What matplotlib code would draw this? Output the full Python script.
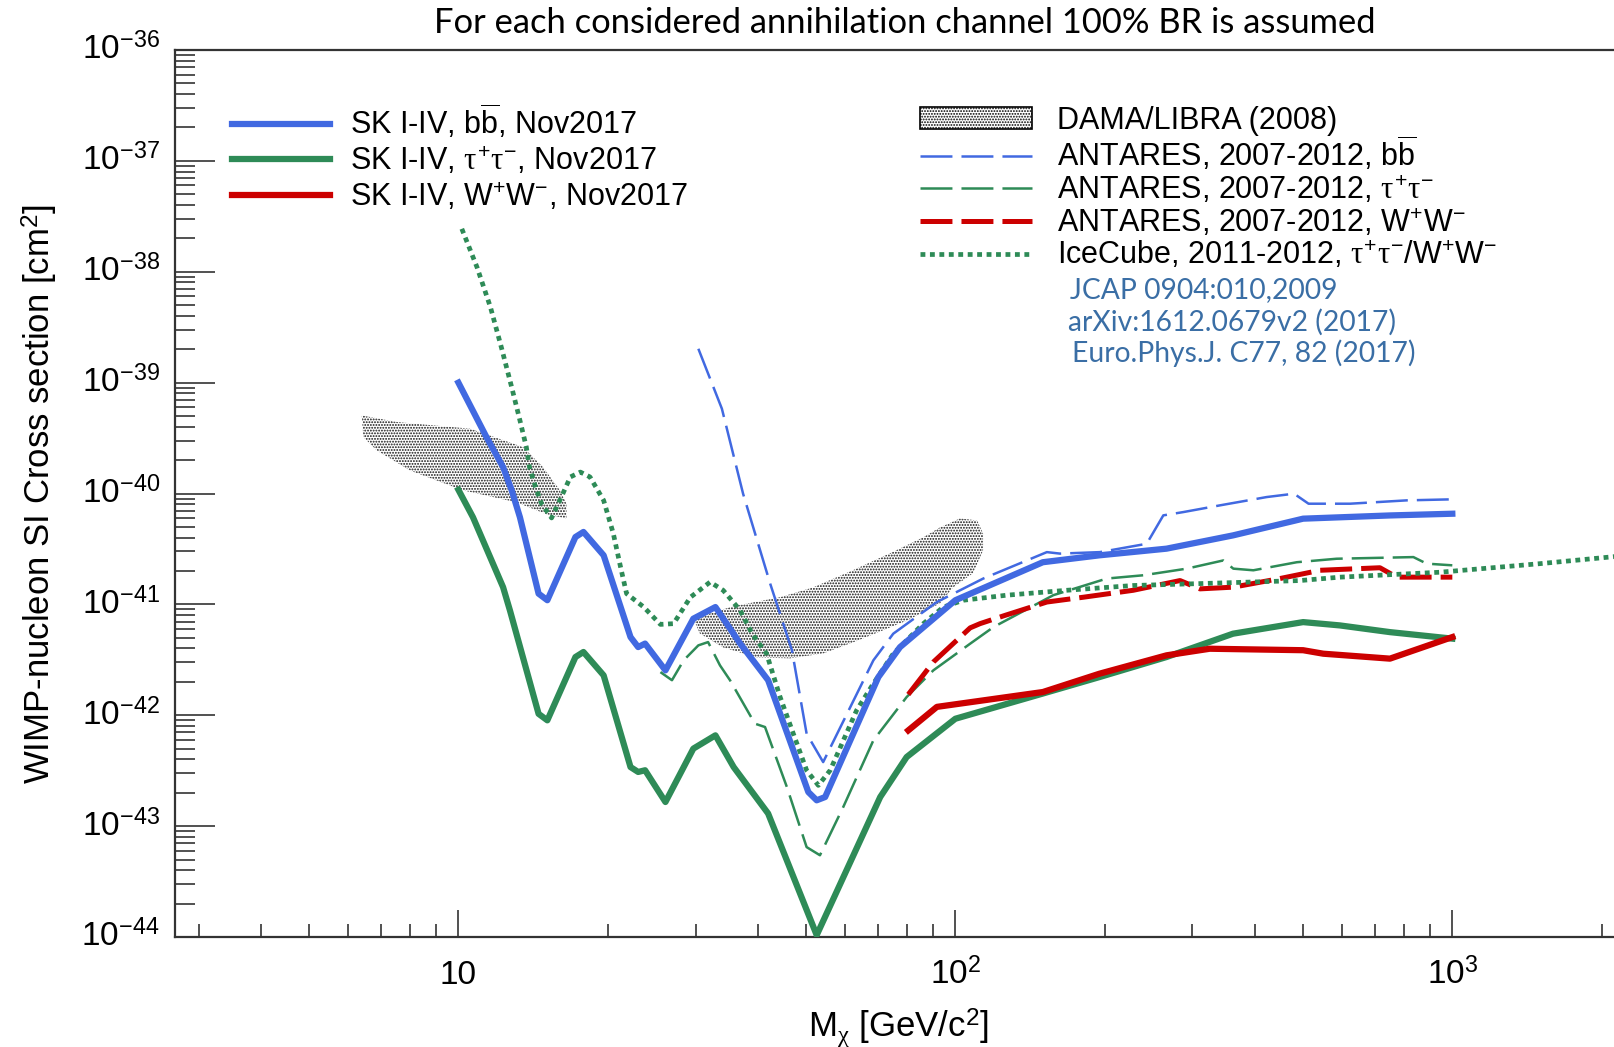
import numpy as np
import matplotlib
matplotlib.use("Agg")
import matplotlib.pyplot as plt
from matplotlib.patches import Patch
from matplotlib.ticker import LogLocator, FixedLocator, FuncFormatter, NullFormatter

# ---------------- data ----------------
sk_bb_mass = [10.0, 11.4, 12.3, 12.8, 13.3, 14.5, 15.1, 17.2, 17.85, 19.6, 22.2, 23.0, 23.75,
              26.1, 29.7, 32.9, 36.9, 42.0, 50.6, 52.6, 54.7, 70.0, 77.4, 100, 150, 195, 266,
              362, 501, 749, 1000]
sk_bb_xs = [1.0e-39, 3.2e-40, 1.73e-40, 1.07e-40, 6.1e-41, 1.25e-41, 1.09e-41, 4.05e-41, 4.5e-41,
            2.77e-41, 5.07e-42, 4.12e-42, 4.43e-42, 2.54e-42, 7.43e-42, 9.46e-42, 4.43e-42,
            2.07e-42, 2.03e-43, 1.71e-43, 1.83e-43, 2.21e-42, 4.12e-42, 1.09e-41, 2.40e-41,
            2.77e-41, 3.18e-41, 4.19e-41, 5.93e-41, 6.34e-41, 6.57e-41]

sk_tt_mass = [10.0, 10.7, 12.3, 12.7, 14.5, 15.1, 17.2, 17.85, 19.6, 22.2, 23.0, 23.75, 26.1,
              29.7, 32.9, 35.8, 42.0, 52.6, 70.6, 79.8, 100, 150, 195, 266, 362, 501, 594,
              749, 1000]
sk_tt_xs = [1.08e-40, 6.1e-41, 1.43e-41, 8.8e-42, 1.03e-42, 9.0e-43, 3.35e-42, 3.72e-42, 2.29e-42,
            3.41e-43, 3.08e-43, 3.19e-43, 1.65e-43, 5.0e-43, 6.59e-43, 3.41e-43, 1.30e-43,
            1.04e-44, 1.83e-43, 4.2e-43, 9.3e-43, 1.57e-42, 2.21e-42, 3.35e-42, 5.44e-42,
            6.92e-42, 6.46e-42, 5.62e-42, 4.91e-42]

sk_ww_mass = [80.4, 91.8, 150, 195, 266, 325, 501, 550, 749, 1000]
sk_ww_xs = [7.3e-43, 1.19e-42, 1.62e-42, 2.37e-42, 3.47e-42, 3.98e-42, 3.86e-42, 3.59e-42,
            3.24e-42, 5.07e-42]

ant_bb_mass = [30.4, 33.9, 37.4, 42.4, 46.9, 50.2, 54.2, 68.4, 75.0, 91.8, 113.8, 152.8, 162.4,
               195.4, 242.7, 262.1, 287.6, 340.9, 423.2, 480.3, 513.7, 622.6, 809, 1000]
ant_bb_xs = [2.02e-39, 5.82e-40, 9.95e-41, 1.54e-41, 3.85e-42, 6.82e-43, 3.78e-43, 3.13e-42,
             5.44e-42, 1.05e-41, 1.71e-41, 2.96e-41, 2.87e-41, 2.96e-41, 3.52e-41, 6.35e-41,
             6.80e-41, 7.82e-41, 9.29e-41, 9.96e-41, 8.09e-41, 8.09e-41, 8.67e-41, 8.86e-41]

ant_tt_mass = [25.5, 26.9, 28.4, 30.4, 31.8, 33.6, 35.2, 39.5, 41.4, 45.8, 50.2, 53.4, 59.5,
               68.4, 79.8, 90.3, 107.1, 119.3, 157.4, 201.7, 238.8, 292.2, 346, 362.5, 397.8,
               486.5, 585, 835, 888, 1000]
ant_tt_xs = [2.45e-42, 2.07e-42, 3.13e-42, 4.27e-42, 4.57e-42, 2.82e-42, 2.07e-42, 8.4e-43,
             7.83e-43, 2.26e-43, 6.47e-44, 5.46e-44, 1.49e-43, 5.94e-43, 1.46e-42, 2.54e-42,
             4.42e-42, 6.24e-42, 1.21e-41, 1.71e-41, 1.83e-41, 2.10e-41, 2.49e-41, 2.10e-41,
             2.03e-41, 2.40e-41, 2.58e-41, 2.67e-41, 2.33e-41, 2.25e-41]

ant_ww_mass = [80.4, 90.3, 107.1, 112.1, 125.9, 152.8, 180.9, 228, 283.2, 310.6, 362.5, 450,
               542, 715, 773, 1000]
ant_ww_xs = [1.54e-42, 3.02e-42, 6.14e-42, 6.70e-42, 7.96e-42, 1.05e-41, 1.16e-41, 1.34e-41,
             1.64e-41, 1.38e-41, 1.43e-41, 1.71e-41, 2.03e-41, 2.14e-41, 1.76e-41, 1.76e-41]

ice_mass = [10.16, 10.9, 11.6, 12.2, 12.8, 13.3, 13.7, 13.9, 14.3, 14.7, 15.4, 16.0, 16.8, 17.6,
            18.4, 19.6, 20.5, 21.2, 21.8, 23.6, 25.5, 27.1, 29.3, 32.1, 34.1, 36.9, 39.0, 41.7,
            44.4, 47.2, 50.2, 53.0, 56.0, 63.3, 68.4, 75.0, 86.2, 94.6, 103.8, 126.9, 167.5,
            228, 310.6, 493.8, 594, 945, 1502, 2125]
ice_xs = [2.44e-38, 1.10e-38, 4.80e-39, 2.09e-39, 9.1e-40, 4.56e-40, 2.62e-40, 1.73e-40,
          1.14e-40, 8.09e-41, 6.02e-41, 8.67e-41, 1.41e-40, 1.56e-40, 1.41e-40, 8.67e-41,
          4.35e-41, 2.17e-41, 1.25e-41, 9.46e-42, 6.6e-42, 6.7e-42, 1.16e-41, 1.59e-41,
          1.34e-41, 8.83e-42, 5.44e-42, 3.59e-42, 1.46e-42, 6.82e-43, 3.19e-43, 2.33e-43,
          3.19e-43, 1.11e-42, 1.93e-42, 3.59e-42, 6.70e-42, 9.46e-42, 1.09e-41, 1.21e-41,
          1.34e-41, 1.48e-41, 1.54e-41, 1.64e-41, 1.76e-41, 1.95e-41, 2.33e-41, 2.70e-41]

dama1_mass = [6.39, 7.52, 10.56, 13.5, 14.8, 16.0, 16.5, 16.5, 15.06, 13.1, 10.2, 8.0, 6.85, 6.44]
dama1_xs = [5.06e-40, 4.41e-40, 3.84e-40, 2.62e-40, 1.73e-40, 1.07e-40, 8.09e-41, 5.96e-41,
            6.49e-41, 8.32e-41, 1.07e-40, 1.61e-40, 2.45e-40, 3.23e-40]

dama2_mass = [29.7, 35.7, 44.4, 51.7, 62.2, 73.9, 86.1, 93.1, 102.2, 110.6, 113.7, 113.7, 108.5,
              98.9, 93.1, 80.1, 63.7, 54.2, 46.5, 39.9, 34.1, 30.6]
dama2_xs = [7.48e-42, 9.6e-42, 1.16e-41, 1.42e-41, 2.03e-41, 2.89e-41, 4.02e-41, 4.94e-41,
            5.96e-41, 5.71e-41, 4.36e-41, 3.07e-41, 1.91e-41, 1.42e-41, 1.02e-41, 7.18e-42,
            4.73e-42, 3.61e-42, 3.26e-42, 3.32e-42, 4.09e-42, 5.47e-42]

labels_sk = [r"SK I-IV, $\mathrm{b}\overline{\mathrm{b}}$, Nov2017",
             r"SK I-IV, $\tau^{+}\tau^{-}$, Nov2017",
             r"SK I-IV, $\mathrm{W}^{+}\mathrm{W}^{-}$, Nov2017"]
label_dama = "DAMA/LIBRA (2008)"
labels_other = [r"ANTARES, 2007-2012, $\mathrm{b}\overline{\mathrm{b}}$",
                r"ANTARES, 2007-2012, $\tau^{+}\tau^{-}$",
                r"ANTARES, 2007-2012, $\mathrm{W}^{+}\mathrm{W}^{-}$",
                r"IceCube, 2011-2012, $\tau^{+}\tau^{-}$/$\mathrm{W}^{+}\mathrm{W}^{-}$"]
refs = ["JCAP 0904:010,2009", "arXiv:1612.0679v2 (2017)", "Euro.Phys.J. C77, 82 (2017)"]
title = "For each considered annihilation channel 100% BR is assumed"

# ---------------- style ----------------
plt.rcParams['font.family'] = ['Liberation Sans', 'DejaVu Sans']
plt.rcParams['mathtext.fontset'] = 'custom'
plt.rcParams['mathtext.rm'] = 'Liberation Sans'
plt.rcParams['mathtext.it'] = 'Liberation Serif'
plt.rcParams['mathtext.bf'] = 'Liberation Sans:bold'
plt.rcParams['lines.scale_dashes'] = False
plt.rcParams['hatch.linewidth'] = 0.9

BLUE = '#4169E1'
GREEN = '#2E8B57'
RED = '#CC0000'
REFBLUE = '#3A6EA5'
W, H = 1615, 1047

fig = plt.figure(figsize=(W / 100, H / 100), dpi=100)
ax = fig.add_axes([175 / W, (H - 937) / H, (W - 175) / W, (937 - 50) / H])
ax.set_xscale('log')
ax.set_yscale('log')
ax.set_xlim(2.69, 2125)
ax.set_ylim(1e-44, 1e-36)

# DAMA regions
hatch_kw = dict(facecolor='white', edgecolor='#111111', hatch='......', linewidth=0)
ax.fill(dama1_mass, dama1_xs, zorder=1, **hatch_kw)
ax.fill(dama2_mass, dama2_xs, zorder=1, **hatch_kw)

dash = (23, 6.5)
l_abb, = ax.plot(ant_bb_mass, ant_bb_xs, color=BLUE, lw=1.8, dashes=dash, zorder=3)
l_att, = ax.plot(ant_tt_mass, ant_tt_xs, color=GREEN, lw=1.8, dashes=dash, zorder=3)
l_aww, = ax.plot(ant_ww_mass, ant_ww_xs, color=RED, lw=3.6, dashes=dash, zorder=3,
                 dash_capstyle='butt')
l_ice, = ax.plot(ice_mass, ice_xs, color=GREEN, lw=3.4, dashes=(3.5, 3.3), zorder=3,
                 dash_capstyle='butt')
l_skbb, = ax.plot(sk_bb_mass, sk_bb_xs, color=BLUE, lw=4.5, zorder=4)
l_sktt, = ax.plot(sk_tt_mass, sk_tt_xs, color=GREEN, lw=4.5, zorder=4)
l_skww, = ax.plot(sk_ww_mass, sk_ww_xs, color=RED, lw=4.5, zorder=5)

# axes styling (ROOT-like)
for s in ['left', 'bottom', 'top']:
    ax.spines[s].set_linewidth(1.6)
    ax.spines[s].set_color('#333333')
ax.spines['right'].set_visible(False)

ax.xaxis.set_major_locator(FixedLocator([10, 100, 1000]))
ax.xaxis.set_minor_locator(LogLocator(base=10, subs=np.arange(2, 10), numticks=100))
ax.xaxis.set_major_formatter(FuncFormatter(
    lambda v, p: '10' if round(np.log10(v)) == 1 else r'$10^{%d}$' % round(np.log10(v))))
ax.xaxis.set_minor_formatter(NullFormatter())
ax.yaxis.set_major_locator(FixedLocator([10.0 ** e for e in range(-44, -35)]))
ax.yaxis.set_minor_locator(LogLocator(base=10, subs=np.arange(2, 10), numticks=100))
ax.yaxis.set_major_formatter(FuncFormatter(lambda v, p: r'$10^{%d}$' % round(np.log10(v))))
ax.yaxis.set_minor_formatter(NullFormatter())

ax.tick_params(axis='both', which='both', direction='in', color='#222222', width=1.1,
               top=False, right=False)
ax.tick_params(axis='x', which='major', length=19.5, pad=34, labelsize=24)
ax.tick_params(axis='x', which='minor', length=9.7)
ax.tick_params(axis='y', which='major', length=29, pad=11, labelsize=24)
ax.tick_params(axis='y', which='minor', length=14.5)
for t in ax.get_xticklabels():
    t.set_verticalalignment('baseline')
for t in ax.get_yticklabels():
    t.set_verticalalignment('center')

ax.set_ylabel(r"WIMP-nucleon SI Cross section [cm$^{2}$]", fontsize=25)
ax.yaxis.set_label_coords((60 - 175) / 1440, 0.5)
ax.set_xlabel(r"M$_{\chi}$ [GeV/c$^{2}$]", fontsize=25)
ax.xaxis.set_label_coords((898 - 175) / 1440, (937 - 1006) / 887)

# legends
fs = 22
common = dict(loc='center left', bbox_transform=fig.transFigure, frameon=False, fontsize=fs,
              borderpad=0, borderaxespad=0)
leg1 = ax.legend([l_skbb, l_sktt, l_skww], labels_sk,
                 bbox_to_anchor=(232 / W, 1 - 157.6 / H),
                 handlelength=70.6 / fs, handletextpad=14.4 / fs, labelspacing=0.15, **common)
ax.add_artist(leg1)
dama_patch = Patch(facecolor='white', edgecolor='black', hatch='......', linewidth=1.2)
leg_d = ax.legend([dama_patch], [label_dama],
                  bbox_to_anchor=(920 / W, 1 - 120.5 / H),
                  handlelength=80.6 / fs, handleheight=0.75, handletextpad=18 / fs, **common)
ax.add_artist(leg_d)
leg2 = ax.legend([l_abb, l_att, l_aww, l_ice], labels_other,
                 bbox_to_anchor=(920 / W, 1 - 203 / H),
                 handlelength=80.6 / fs, handletextpad=18 / fs, labelspacing=0.05, **common)

# reference text and title
for txt, x, y in zip(refs, [1070, 1068, 1072], [290, 322, 353]):
    fig.text(x / W, 1 - y / H, txt, color=REFBLUE, fontsize=20.3, family='Lato',
             ha='left', va='center')
fig.text(905 / W, 1 - 23 / H, title, fontsize=24.8, family='Lato', ha='center', va='center')

fig.savefig('out.png', dpi=100)
